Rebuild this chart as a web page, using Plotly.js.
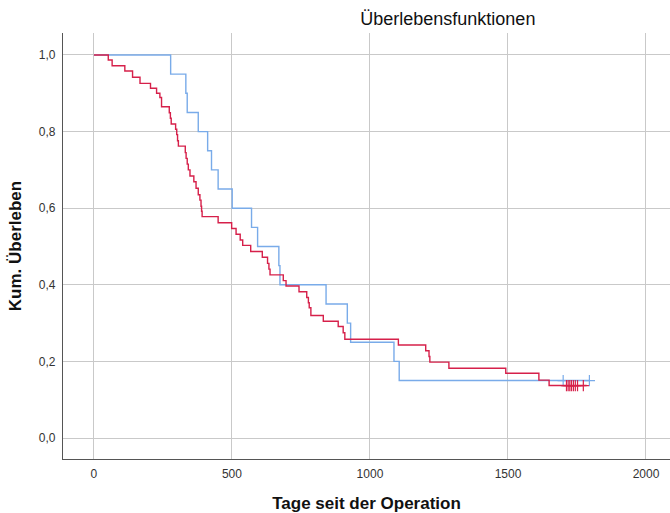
<!DOCTYPE html>
<html>
<head>
<meta charset="utf-8">
<script src="https://cdn.plot.ly/plotly-3.0.1.min.js"></script>
<style>html,body{margin:0;padding:0;background:#fff;}#chart{width:670px;height:513px;}</style>
</head>
<body>
<div id="chart"></div>
<script>
// Group A (blue)
const blueTimes = [0, 278, 333, 338, 378, 412, 426, 450, 501, 571, 593, 670, 674, 841, 918, 930, 1087, 1106];
const blueSurv  = [1.0, 0.95, 0.90, 0.85, 0.80, 0.75, 0.70, 0.65, 0.60, 0.55, 0.50, 0.45, 0.40, 0.35, 0.30, 0.25, 0.20, 0.15];
const blueEnd = 1795;
const blueCensored = [1700, 1795];

// Group B (red)
const redTimes = [0, 52, 66, 112, 140, 167, 205, 227, 239, 245, 273, 277, 280, 296, 300, 303, 306, 331, 334, 338, 342, 348, 362, 370, 378, 384, 388, 390, 392, 450, 499, 515, 530, 539, 568, 610, 629, 634, 638, 686, 696, 743, 771, 777, 780, 786, 831, 885, 903, 909, 1103, 1202, 1214, 1217, 1286, 1492, 1612, 1649];
const redSurv  = [1.0, 0.987, 0.972, 0.958, 0.942, 0.926, 0.913, 0.900, 0.889, 0.865, 0.849, 0.835, 0.820, 0.806, 0.792, 0.776, 0.762, 0.745, 0.730, 0.715, 0.700, 0.684, 0.669, 0.652, 0.635, 0.621, 0.605, 0.592, 0.578, 0.562, 0.547, 0.532, 0.517, 0.503, 0.487, 0.472, 0.456, 0.441, 0.426, 0.411, 0.397, 0.382, 0.367, 0.353, 0.340, 0.320, 0.305, 0.291, 0.275, 0.258, 0.243, 0.228, 0.213, 0.198, 0.182, 0.169, 0.151, 0.137];
const redEnd = 1785;
const redCensored = [1712, 1718, 1724, 1730, 1737, 1744, 1752, 1773];

const yTicks = [0, 0.2, 0.4, 0.6, 0.8, 1.0];
const xTicks = [0, 500, 1000, 1500, 2000];

const BLUE = '#79abe9';
const RED = '#d6204a';

function stepAt(times, surv, t) {
  let v = surv[0];
  for (let i = 0; i < times.length; i++) { if (times[i] <= t) v = surv[i]; }
  return v;
}
function lineTrace(times, surv, end, color) {
  return {
    x: times.concat([end]), y: surv.concat([surv[surv.length - 1]]),
    type: 'scatter', mode: 'lines', line: {shape: 'hv', color: color, width: 1.4},
    hoverinfo: 'skip', showlegend: false
  };
}
function censTrace(times, surv, cens, color) {
  return {
    x: cens, y: cens.map(t => stepAt(times, surv, t)),
    type: 'scatter', mode: 'markers',
    marker: {symbol: 'cross-thin-open', size: 8, color: color, line: {color: color, width: 1.2}},
    hoverinfo: 'skip', showlegend: false
  };
}

const data = [
  lineTrace(blueTimes, blueSurv, blueEnd, BLUE),
  censTrace(blueTimes, blueSurv, blueCensored, BLUE),
  lineTrace(redTimes, redSurv, redEnd, RED),
  censTrace(redTimes, redSurv, redCensored, RED)
];

const layout = {
  width: 670, height: 513,
  margin: {l: 63, r: 0, t: 33, b: 54},
  paper_bgcolor: '#fff', plot_bgcolor: '#fff',
  separators: ',.',
  font: {family: 'Liberation Sans, Arial, sans-serif', color: '#222'},
  title: {text: 'Überlebensfunktionen', font: {size: 18, color: '#111'},
          xref: 'paper', x: 0.634, xanchor: 'center', yref: 'container', y: 0.963, yanchor: 'middle'},
  showlegend: false,
  xaxis: {
    range: [-112, 2087], tickvals: xTicks, ticktext: xTicks.map(String),
    showgrid: true, gridcolor: '#c9c9c9', gridwidth: 1, zeroline: false,
    showline: true, linecolor: '#555', linewidth: 1.2,
    ticks: '', tickfont: {size: 12, color: '#333'}, ticklabelstandoff: 3,
    title: {text: 'Tage seit der Operation', font: {size: 17, color: '#111', weight: 'bold'}, standoff: 18}
  },
  yaxis: {
    range: [-0.0548, 1.0574], tickvals: yTicks, tickformat: '.1f',
    showgrid: true, gridcolor: '#c9c9c9', gridwidth: 1, zeroline: false,
    showline: true, linecolor: '#555', linewidth: 1.2,
    ticks: '', tickfont: {size: 12, color: '#333'}, ticklabelstandoff: 4,
    title: {text: 'Kum. Überleben', font: {size: 17, color: '#111', weight: 'bold'}, standoff: 12}
  }
};

Plotly.newPlot('chart', data, layout, {displayModeBar: false, staticPlot: true});
</script>
</body>
</html>
